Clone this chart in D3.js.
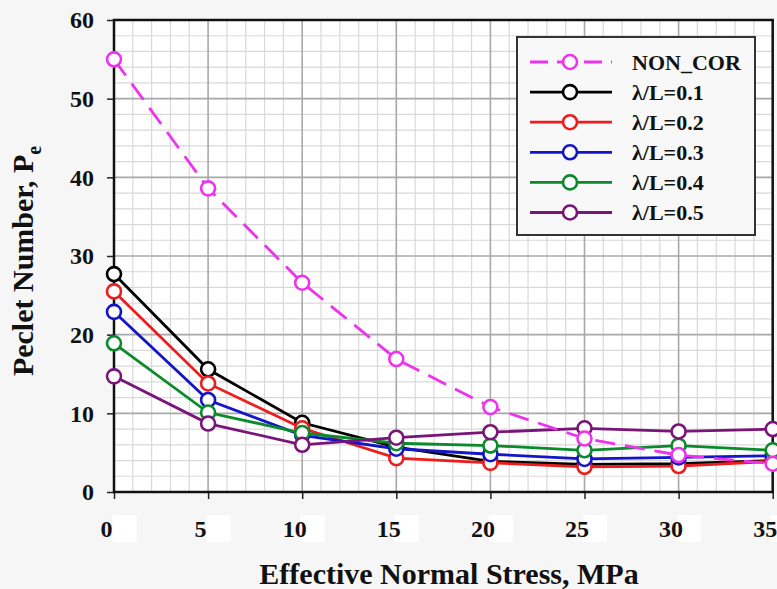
<!DOCTYPE html>
<html>
<head>
<meta charset="utf-8">
<script src="https://cdn.jsdelivr.net/npm/d3@7"></script>
<style>
  html, body { margin: 0; padding: 0; background: #f6f6f6; }
  svg { display: block; }
  text { font-family: "Liberation Serif", "Times New Roman", serif; font-weight: bold; fill: #111; }
</style>
</head>
<body>
<svg id="chart" width="777" height="589"></svg>
<script>
// Effective normal stress (MPa)
const stress = [0, 5, 10, 15, 20, 25, 30, 35];

// Peclet number per case
const seriesNames = ["NON_COR", "λ/L=0.1", "λ/L=0.2", "λ/L=0.3", "λ/L=0.4", "λ/L=0.5"];
const nonCor = [55.0, 38.6, 26.6, 16.9, 10.8, 6.8, 4.7, 3.6];
const lam01  = [27.7, 15.6, 8.8, 5.7, 3.9, 3.5, 3.6, 4.0];
const lam02  = [25.5, 13.8, 8.1, 4.3, 3.7, 3.2, 3.3, 3.9];
const lam03  = [22.9, 11.7, 7.2, 5.5, 4.8, 4.2, 4.4, 4.6];
const lam04  = [18.9, 10.1, 7.5, 6.2, 5.9, 5.3, 5.9, 5.3];
const lam05  = [14.7, 8.7, 6.0, 6.9, 7.6, 8.1, 7.7, 8.0];

const xTicks = [0, 5, 10, 15, 20, 25, 30, 35];
const yTicks = [0, 10, 20, 30, 40, 50, 60];

const colors = ["#ee33ee", "#000000", "#ee1c1c", "#1414c8", "#0a8a2a", "#7a1478"];
const values = [nonCor, lam01, lam02, lam03, lam04, lam05];

const svg = d3.select("#chart");
const pL = 114, pR = 772.7, pT = 20, pB = 492;

const x = d3.scaleLinear().domain([0, 35]).range([pL, pR]);
const y = d3.scaleLinear().domain([0, 60]).range([pB, pT]);

// plot area
svg.append("rect").attr("x", pL).attr("y", pT)
  .attr("width", pR - pL).attr("height", pB - pT).attr("fill", "#ffffff");

// minor grid
const gMinor = svg.append("g");
d3.range(0, 35.01, 1).forEach(v => {
  if (v % 5 !== 0) gMinor.append("line").attr("x1", x(v)).attr("x2", x(v)).attr("y1", pT).attr("y2", pB)
    .attr("stroke", "#d9d9d9").attr("stroke-width", 1.2);
});
d3.range(0, 60.01, 2).forEach(v => {
  if (v % 10 !== 0) gMinor.append("line").attr("x1", pL).attr("x2", pR).attr("y1", y(v)).attr("y2", y(v))
    .attr("stroke", "#d9d9d9").attr("stroke-width", 1.2);
});
// major grid
xTicks.forEach(v => svg.append("line").attr("x1", x(v)).attr("x2", x(v)).attr("y1", pT).attr("y2", pB)
  .attr("stroke", "#a8a8a8").attr("stroke-width", 1.6));
yTicks.forEach(v => svg.append("line").attr("x1", pL).attr("x2", pR).attr("y1", y(v)).attr("y2", y(v))
  .attr("stroke", "#a8a8a8").attr("stroke-width", 1.6));

// axes
const xAxis = svg.append("g").attr("transform", `translate(0,${pB})`)
  .call(d3.axisBottom(x).tickValues(xTicks).tickSize(7).tickFormat(d3.format("d")));
const yAxis = svg.append("g").attr("transform", `translate(${pL},0)`)
  .call(d3.axisLeft(y).tickValues(yTicks).tickSize(7).tickPadding(13).tickFormat(d3.format("d")));
[xAxis, yAxis].forEach(a => {
  a.select(".domain").remove();
  a.selectAll(".tick line").attr("stroke", "#222").attr("stroke-width", 1.5);
  a.selectAll(".tick text").attr("font-size", 24).attr("font-family", "Liberation Serif")
    .attr("font-weight", "bold").attr("fill", "#111");
});
// x labels sit a little left of their ticks, each with a white patch after it
xAxis.selectAll(".tick").insert("rect", "text")
  .attr("x", -2).attr("y", 23).attr("width", 24).attr("height", 27).attr("fill", "#ffffff");
xAxis.selectAll(".tick text").attr("x", -8).attr("y", 45).attr("dy", null);

// frame
svg.append("rect").attr("x", pL).attr("y", pT)
  .attr("width", pR - pL).attr("height", pB - pT)
  .attr("fill", "none").attr("stroke", "#111").attr("stroke-width", 2.5);

// axis titles
svg.append("text").attr("x", 449).attr("y", 584).attr("text-anchor", "middle")
  .attr("font-size", 30).text("Effective Normal Stress, MPa");
const yt = svg.append("text").attr("transform", `translate(33,261) rotate(-90)`)
  .attr("text-anchor", "middle").attr("font-size", 30);
yt.append("tspan").text("Peclet Number, P");
yt.append("tspan").attr("font-size", 20).attr("dy", 8).text("e");

// series (NON_COR drawn last so it sits on top)
const line = d3.line().x((d, i) => x(stress[i])).y(d => y(d));
const order = [1, 2, 3, 4, 5, 0];
order.forEach(k => {
  const g = svg.append("g");
  g.append("path").datum(values[k]).attr("d", line).attr("fill", "none")
    .attr("stroke", colors[k]).attr("stroke-width", 2.8)
    .attr("stroke-dasharray", k === 0 ? "20,10" : null);
  g.selectAll("circle").data(values[k]).join("circle")
    .attr("cx", (d, i) => x(stress[i])).attr("cy", d => y(d)).attr("r", 7)
    .attr("fill", "#ffffff").attr("stroke", colors[k]).attr("stroke-width", 2.6);
});

// legend
const lg = svg.append("g");
lg.append("rect").attr("x", 517).attr("y", 37).attr("width", 238).attr("height", 198)
  .attr("fill", "#f8f8f8").attr("stroke", "#333").attr("stroke-width", 2);
seriesNames.forEach((name, k) => {
  const cy = 62 + k * 30.1;
  lg.append("line").attr("x1", 530).attr("x2", 612).attr("y1", cy).attr("y2", cy)
    .attr("stroke", colors[k]).attr("stroke-width", 2.8)
    .attr("stroke-dasharray", k === 0 ? "18,9" : null);
  lg.append("circle").attr("cx", 570).attr("cy", cy).attr("r", 7)
    .attr("fill", "#ffffff").attr("stroke", colors[k]).attr("stroke-width", 2.6);
  lg.append("text").attr("x", 632).attr("y", cy + 7.5).attr("font-size", 22).text(name);
});
</script>
</body>
</html>
